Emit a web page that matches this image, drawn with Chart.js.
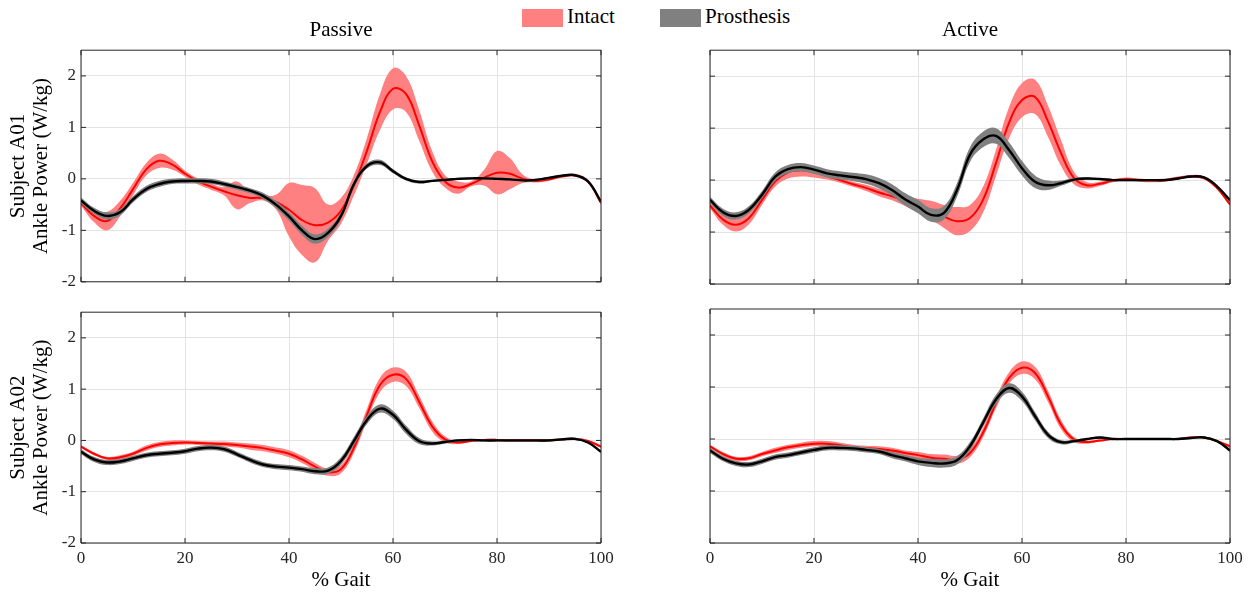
<!DOCTYPE html>
<html>
<head>
<meta charset="utf-8">
<title>Ankle Power</title>
<script src="https://cdn.jsdelivr.net/npm/chart.js@4.4.0/dist/chart.umd.min.js"></script>
<style>
    body { margin: 0; background: #fff; font-family: "Liberation Serif", serif; }
    #page { position: relative; width: 1253px; height: 595px; overflow: hidden; }
    canvas { position: absolute; }
    .sw { position: absolute; top: 9px; width: 41px; height: 18px; }
    .lb { position: absolute; top: 4px; font-size: 21px; line-height: 24px; color: #000; }
</style>
</head>
<body>
<div id="page">
    <span class="sw" style="left:522px;background:#ff8080"></span>
    <span class="lb" style="left:567px">Intact</span>
    <span class="sw" style="left:660px;background:#808080"></span>
    <span class="lb" style="left:705px">Prosthesis</span>
    <canvas id="c1" width="626" height="297" style="left:0;top:0"></canvas>
    <canvas id="c2" width="627" height="297" style="left:626px;top:0"></canvas>
    <canvas id="c3" width="626" height="298" style="left:0;top:297px"></canvas>
    <canvas id="c4" width="627" height="298" style="left:626px;top:297px"></canvas>
</div>
<script>
// % gait, sampled every 2.5%
const gait = [0, 2.5, 5, 7.5, 10, 12.5, 15, 17.5, 20, 22.5, 25, 27.5, 30, 32.5, 35, 37.5, 40, 42.5, 45, 47.5,
    50, 52.5, 55, 57.5, 60, 62.5, 65, 67.5, 70, 72.5, 75, 77.5, 80, 82.5, 85, 87.5, 90, 92.5, 95, 97.5, 100];
const yTicks = [-2, -1, 0, 1, 2];
const xTicks = [0, 20, 40, 60, 80, 100];

// Subject A01 - Passive
const a01PassiveIntact = [-0.47, -0.72, -0.82, -0.58, -0.2, 0.18, 0.35, 0.28, 0.1, -0.05, -0.15, -0.24, -0.32, -0.37, -0.37, -0.45, -0.6, -0.8, -0.9, -0.85,
    -0.62, -0.12, 0.55, 1.3, 1.75, 1.65, 1.05, 0.35, -0.05, -0.17, -0.1, 0.02, 0.12, 0.1, 0.0, -0.04, -0.01, 0.05, 0.07, -0.05, -0.47];
const a01PassiveIntactSd = [0.05, 0.12, 0.18, 0.15, 0.12, 0.12, 0.14, 0.1, 0.06, 0.06, 0.06, 0.08, 0.27, 0.1, 0.05, 0.14, 0.52, 0.68, 0.72, 0.35,
    0.25, 0.2, 0.25, 0.35, 0.4, 0.35, 0.3, 0.2, 0.12, 0.12, 0.05, 0.15, 0.42, 0.3, 0.08, 0.03, 0.03, 0.03, 0.03, 0.03, 0.03];
const a01PassiveProst = [-0.42, -0.62, -0.72, -0.65, -0.4, -0.2, -0.1, -0.05, -0.04, -0.04, -0.05, -0.1, -0.16, -0.23, -0.33, -0.5, -0.73, -1.0, -1.17, -1.05,
    -0.72, -0.1, 0.25, 0.32, 0.15, 0.0, -0.06, -0.04, -0.02, 0.0, 0.01, 0.01, 0.0, -0.01, -0.03, -0.02, 0.02, 0.06, 0.07, -0.05, -0.44];
const a01PassiveProstSd = [0.06, 0.06, 0.07, 0.06, 0.06, 0.06, 0.06, 0.05, 0.05, 0.05, 0.05, 0.05, 0.05, 0.05, 0.06, 0.07, 0.08, 0.09, 0.09, 0.08,
    0.07, 0.06, 0.05, 0.05, 0.04, 0.03, 0.03, 0.02, 0.02, 0.02, 0.02, 0.02, 0.02, 0.02, 0.02, 0.02, 0.02, 0.02, 0.02, 0.02, 0.03];

// Subject A01 - Active
const a01ActiveIntact = [-0.49, -0.76, -0.86, -0.73, -0.38, -0.03, 0.15, 0.19, 0.15, 0.08, 0.0, -0.08, -0.15, -0.24, -0.31, -0.4, -0.49, -0.58, -0.7, -0.79,
    -0.73, -0.38, 0.33, 1.1, 1.54, 1.6, 1.13, 0.52, 0.04, -0.1, -0.07, -0.01, 0.02, 0.0, -0.01, 0.0, 0.04, 0.07, 0.04, -0.15, -0.47];
const a01ActiveIntactSd = [0.05, 0.1, 0.13, 0.12, 0.1, 0.1, 0.12, 0.12, 0.1, 0.07, 0.05, 0.05, 0.06, 0.07, 0.08, 0.1, 0.13, 0.18, 0.22, 0.27,
    0.25, 0.25, 0.25, 0.3, 0.33, 0.33, 0.3, 0.25, 0.12, 0.06, 0.04, 0.03, 0.03, 0.03, 0.03, 0.03, 0.03, 0.03, 0.03, 0.03, 0.03];
const a01ActiveProst = [-0.38, -0.62, -0.69, -0.57, -0.28, 0.06, 0.21, 0.25, 0.2, 0.13, 0.09, 0.06, 0.02, -0.06, -0.19, -0.37, -0.51, -0.67, -0.63, -0.19,
    0.49, 0.78, 0.85, 0.58, 0.23, -0.03, -0.1, -0.06, 0.01, 0.03, 0.02, 0.0, 0.0, 0.0, 0.0, 0.0, 0.03, 0.07, 0.05, -0.12, -0.39];
const a01ActiveProstSd = [0.06, 0.07, 0.07, 0.07, 0.07, 0.08, 0.08, 0.08, 0.08, 0.08, 0.08, 0.08, 0.09, 0.1, 0.11, 0.12, 0.13, 0.13, 0.13, 0.13,
    0.14, 0.15, 0.15, 0.15, 0.14, 0.12, 0.09, 0.05, 0.03, 0.02, 0.02, 0.02, 0.02, 0.02, 0.02, 0.02, 0.02, 0.02, 0.02, 0.02, 0.03];

// Subject A02 - Passive
const a02PassiveIntact = [-0.12, -0.26, -0.35, -0.33, -0.26, -0.15, -0.08, -0.05, -0.04, -0.05, -0.06, -0.07, -0.09, -0.12, -0.15, -0.2, -0.26, -0.37, -0.51, -0.62,
    -0.56, -0.14, 0.5, 1.08, 1.28, 1.2, 0.76, 0.28, 0.02, -0.04, -0.01, 0.01, 0.01, 0.0, 0.0, 0.0, 0.0, 0.02, 0.03, -0.01, -0.12];
const a02PassiveIntactSd = [0.03, 0.03, 0.03, 0.04, 0.04, 0.05, 0.05, 0.05, 0.04, 0.04, 0.04, 0.05, 0.05, 0.06, 0.06, 0.06, 0.07, 0.07, 0.07, 0.07,
    0.08, 0.1, 0.12, 0.14, 0.14, 0.14, 0.12, 0.1, 0.06, 0.03, 0.02, 0.02, 0.02, 0.02, 0.02, 0.02, 0.02, 0.02, 0.02, 0.02, 0.03];
const a02PassiveProst = [-0.22, -0.37, -0.43, -0.41, -0.35, -0.29, -0.26, -0.24, -0.21, -0.16, -0.14, -0.17, -0.27, -0.38, -0.47, -0.51, -0.53, -0.56, -0.6, -0.59,
    -0.4, -0.01, 0.4, 0.62, 0.5, 0.21, -0.01, -0.06, -0.03, 0.0, 0.01, 0.0, 0.0, 0.0, 0.0, 0.0, 0.0, 0.02, 0.03, -0.04, -0.22];
const a02PassiveProstSd = [0.05, 0.05, 0.05, 0.05, 0.05, 0.05, 0.05, 0.05, 0.05, 0.05, 0.05, 0.05, 0.05, 0.05, 0.05, 0.05, 0.05, 0.05, 0.06, 0.06,
    0.07, 0.08, 0.08, 0.08, 0.08, 0.08, 0.06, 0.04, 0.03, 0.02, 0.02, 0.02, 0.02, 0.02, 0.02, 0.02, 0.02, 0.02, 0.02, 0.02, 0.03];

// Subject A02 - Active
const a02ActiveIntact = [-0.14, -0.29, -0.38, -0.37, -0.29, -0.22, -0.16, -0.12, -0.09, -0.09, -0.12, -0.16, -0.18, -0.19, -0.22, -0.27, -0.31, -0.36, -0.38, -0.4,
    -0.27, 0.12, 0.69, 1.17, 1.37, 1.27, 0.82, 0.28, -0.01, -0.06, -0.03, 0.0, 0.0, 0.0, 0.0, 0.0, 0.0, 0.03, 0.03, -0.04, -0.14];
const a02ActiveIntactSd = [0.03, 0.04, 0.04, 0.04, 0.04, 0.05, 0.05, 0.05, 0.05, 0.05, 0.05, 0.05, 0.05, 0.05, 0.05, 0.05, 0.06, 0.07, 0.08, 0.08,
    0.08, 0.09, 0.1, 0.11, 0.12, 0.12, 0.11, 0.09, 0.05, 0.03, 0.02, 0.02, 0.02, 0.02, 0.02, 0.02, 0.02, 0.02, 0.02, 0.02, 0.03];
const a02ActiveProst = [-0.22, -0.38, -0.47, -0.49, -0.43, -0.35, -0.31, -0.26, -0.21, -0.17, -0.17, -0.18, -0.21, -0.24, -0.31, -0.37, -0.43, -0.46, -0.47, -0.41,
    -0.14, 0.31, 0.76, 0.98, 0.82, 0.44, 0.08, -0.06, -0.04, 0.0, 0.03, 0.0, 0.0, 0.0, 0.0, 0.0, 0.0, 0.02, 0.03, -0.04, -0.22];
const a02ActiveProstSd = [0.05, 0.05, 0.05, 0.05, 0.05, 0.05, 0.05, 0.05, 0.05, 0.05, 0.05, 0.05, 0.05, 0.05, 0.06, 0.06, 0.07, 0.08, 0.08, 0.08,
    0.08, 0.08, 0.09, 0.09, 0.09, 0.08, 0.06, 0.04, 0.03, 0.02, 0.02, 0.02, 0.02, 0.02, 0.02, 0.02, 0.02, 0.02, 0.02, 0.02, 0.03];

const FONT = "'Liberation Serif', serif";
const AXIS_COLOR = "#262626";

// matlab style box with inward ticks on all four sides
const boxPlugin = {
    id: "matlabBox",
    afterDatasetsDraw(chart) {
        const { ctx, chartArea: a, scales } = chart;
        const x = scales.x, y = scales.y;
        const len = 5;
        ctx.save();
        ctx.strokeStyle = AXIS_COLOR;
        ctx.lineWidth = 1;
        ctx.beginPath();
        ctx.rect(a.left, a.top, a.right - a.left, a.bottom - a.top);
        x.ticks.forEach((t) => {
            const px = x.getPixelForValue(t.value);
            ctx.moveTo(px, a.bottom);
            ctx.lineTo(px, a.bottom - len);
            ctx.moveTo(px, a.top);
            ctx.lineTo(px, a.top + len);
        });
        y.ticks.forEach((t) => {
            const py = y.getPixelForValue(t.value);
            ctx.moveTo(a.left, py);
            ctx.lineTo(a.left + len, py);
            ctx.moveTo(a.right, py);
            ctx.lineTo(a.right - len, py);
        });
        ctx.stroke();
        ctx.restore();
    },
};

function pts(mean, sd, sign) {
    return gait.map((g, i) => ({ x: g, y: mean[i] + sign * sd[i] }));
}

function makePanel(id, p) {
    const ctx = document.getElementById(id);
    const line = { pointRadius: 0, tension: 0.4, fill: false };
    new Chart(ctx, {
        type: "line",
        data: {
            datasets: [
                { ...line, data: pts(p.intact, p.intactSd, -1), borderWidth: 0, order: 6 },
                { ...line, data: pts(p.intact, p.intactSd, 1), borderWidth: 0, order: 5, fill: 0, backgroundColor: "#ff8080" },
                { ...line, data: pts(p.intact, p.intactSd, 0), borderColor: "#ff0000", borderWidth: 2, order: 4 },
                { ...line, data: pts(p.prost, p.prostSd, -1), borderWidth: 0, order: 3 },
                { ...line, data: pts(p.prost, p.prostSd, 1), borderWidth: 0, order: 2, fill: 3, backgroundColor: "#808080" },
                { ...line, data: pts(p.prost, p.prostSd, 0), borderColor: "#000000", borderWidth: 2.4, order: 1 },
            ],
        },
        options: {
            responsive: false,
            animation: false,
            events: [],
            layout: { padding: { top: p.padTop, right: p.padRight, bottom: 0, left: 0 } },
            plugins: {
                legend: { display: false },
                tooltip: { enabled: false },
                title: {
                    display: !!p.title,
                    text: p.title,
                    fullSize: false,
                    color: "#000",
                    font: { family: FONT, size: 21, weight: "normal", lineHeight: 1.2 },
                    padding: { top: 18, bottom: 7 },
                },
            },
            scales: {
                x: {
                    type: "linear",
                    min: 0,
                    max: 100,
                    afterBuildTicks: (s) => { s.ticks = xTicks.map((v) => ({ value: v })); },
                    afterFit: (s) => { s.height = p.xHeight; },
                    grid: { color: "#e3e3e3", drawTicks: false },
                    border: { display: false },
                    ticks: { display: p.showX, padding: 5, color: AXIS_COLOR, font: { family: FONT, size: 17 } },
                    title: {
                        display: p.showX,
                        text: "% Gait",
                        color: "#000",
                        padding: { bottom: 2 },
                        font: { family: FONT, size: 21, lineHeight: 1.2 },
                    },
                },
                y: {
                    min: -2,
                    max: 2.5,
                    afterBuildTicks: (s) => { s.ticks = yTicks.map((v) => ({ value: v })); },
                    afterFit: (s) => { s.width = p.yWidth; },
                    grid: { color: "#e3e3e3", drawTicks: false },
                    border: { display: false },
                    ticks: { display: !!p.yTitle, padding: 5, color: AXIS_COLOR, font: { family: FONT, size: 17 } },
                    title: {
                        display: !!p.yTitle,
                        text: p.yTitle,
                        color: "#000",
                        padding: { top: 7 },
                        font: { family: FONT, size: 21, lineHeight: 1.1 },
                    },
                },
            },
        },
        plugins: [boxPlugin],
    });
}

makePanel("c1", {
    intact: a01PassiveIntact, intactSd: a01PassiveIntactSd, prost: a01PassiveProst, prostSd: a01PassiveProstSd,
    title: "Passive", yTitle: ["Subject A01", "Ankle Power (W/kg)"], showX: false,
    padTop: 0, padRight: 25, yWidth: 81, xHeight: 13,
});
makePanel("c2", {
    intact: a01ActiveIntact, intactSd: a01ActiveIntactSd, prost: a01ActiveProst, prostSd: a01ActiveProstSd,
    title: "Active", yTitle: null, showX: false,
    padTop: 0, padRight: 23, yWidth: 84, xHeight: 13,
});
makePanel("c3", {
    intact: a02PassiveIntact, intactSd: a02PassiveIntactSd, prost: a02PassiveProst, prostSd: a02PassiveProstSd,
    title: null, yTitle: ["Subject A02", "Ankle Power (W/kg)"], showX: true,
    padTop: 12, padRight: 25, yWidth: 81, xHeight: 52,
});
makePanel("c4", {
    intact: a02ActiveIntact, intactSd: a02ActiveIntactSd, prost: a02ActiveProst, prostSd: a02ActiveProstSd,
    title: null, yTitle: null, showX: true,
    padTop: 12, padRight: 23, yWidth: 84, xHeight: 52,
});
</script>
</body>
</html>
